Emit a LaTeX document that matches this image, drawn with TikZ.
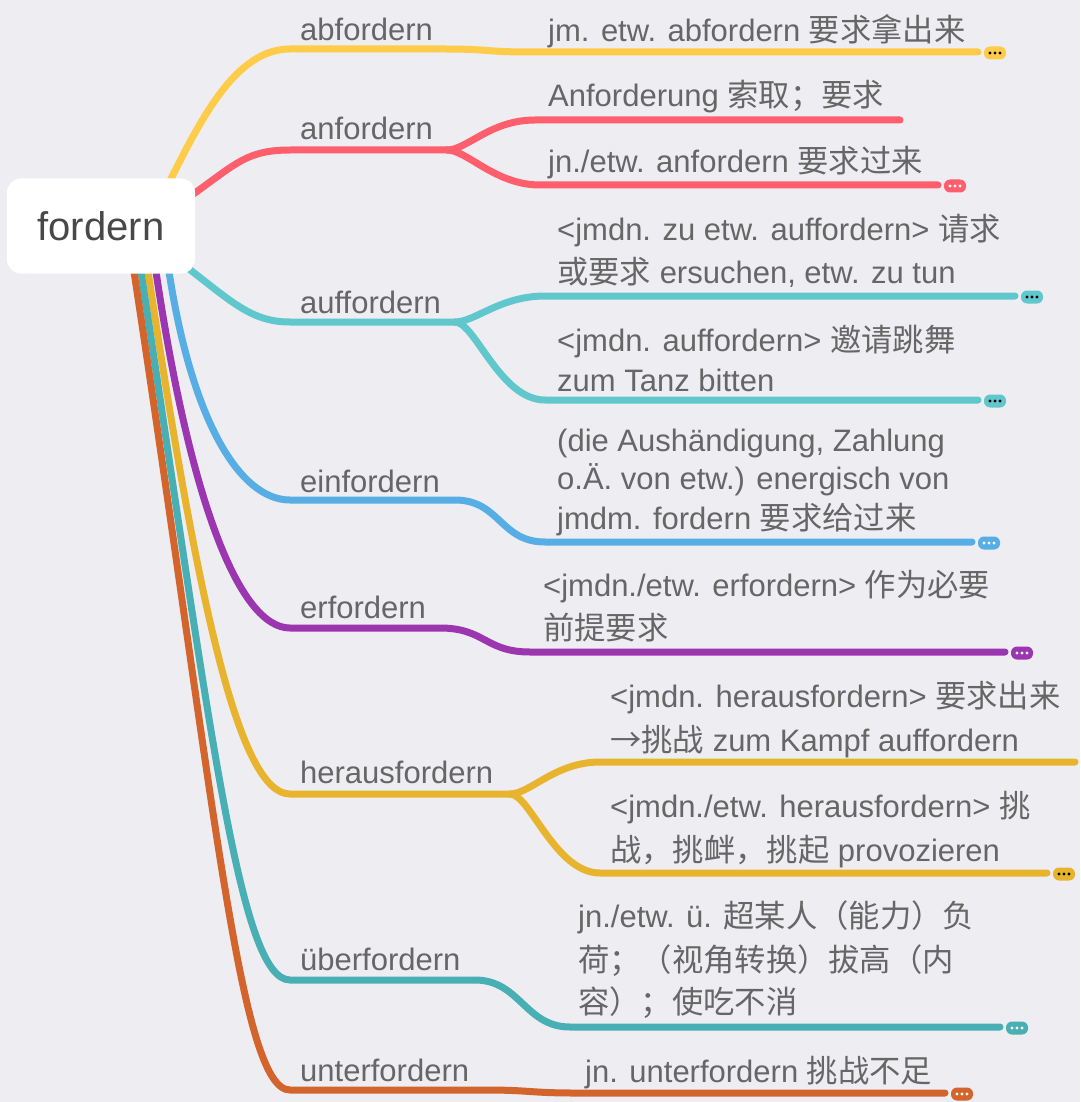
\documentclass[tikz,border=0pt]{standalone}
\usepackage{fontspec}
\setmainfont{Liberation Sans}
\newfontfamily\cjkf{Noto Sans CJK SC}[Scale=1.01]
\newcommand\zh[1]{{\cjkf #1}}
\definecolor{bgc}{RGB}{238,237,242}
\definecolor{txtc}{RGB}{102,102,102}
\definecolor{roottxt}{RGB}{72,72,72}
\definecolor{cA}{RGB}{254,204,72}
\definecolor{cB}{RGB}{255,94,108}
\definecolor{cC}{RGB}{96,200,204}
\definecolor{cD}{RGB}{86,174,228}
\definecolor{cE}{RGB}{155,53,176}
\definecolor{cF}{RGB}{232,180,46}
\definecolor{cG}{RGB}{72,176,180}
\definecolor{cH}{RGB}{210,100,44}
\begin{document}
\begin{tikzpicture}[x=1pt,y=-1pt,
  branch/.style={line width=7pt,line cap=round},
  lbl/.style={anchor=base west,inner sep=0pt,text=txtc,font=\fontsize{31}{37}\selectfont},
  badge/.style={rounded corners=6pt,minimum width=22pt,minimum height=13pt,inner sep=0pt},
  rootbox/.style={fill=white,rounded corners=14pt,minimum width=188pt,minimum height=95pt,inner sep=0pt,text=roottxt,font=\fontsize{40}{46}\selectfont}]
\fill[bgc] (0,0) rectangle (1080,1102);
\useasboundingbox (0,0) rectangle (1080,1102);

% coordinates
\coordinate (r1) at (163,195); \coordinate (m1) at (290,49);  \coordinate (j1) at (445,49);
\coordinate (k1) at (530,52);  \coordinate (e1) at (978,52);
\coordinate (r2) at (185,200); \coordinate (m2) at (290,150); \coordinate (j2) at (447,150);
\coordinate (k2a) at (535,120); \coordinate (e2a) at (900,120);
\coordinate (k2b) at (540,185); \coordinate (e2b) at (938,185);
\coordinate (r3) at (180,262); \coordinate (m3) at (290,322); \coordinate (j3) at (455,322);
\coordinate (k3a) at (545,296); \coordinate (e3a) at (1015,296);
\coordinate (k3b) at (545,400); \coordinate (e3b) at (978,400);
\coordinate (r4) at (168,265); \coordinate (m4) at (290,500); \coordinate (j4) at (455,500);
\coordinate (k4) at (545,542); \coordinate (e4) at (972,542);
\coordinate (r5) at (155,265); \coordinate (m5) at (290,628); \coordinate (j5) at (440,628);
\coordinate (k5) at (530,652); \coordinate (e5) at (1005,652);
\coordinate (r6) at (147,265); \coordinate (m6) at (290,794); \coordinate (j6) at (510,794);
\coordinate (k6a) at (600,762); \coordinate (e6a) at (1075,762);
\coordinate (k6b) at (600,873); \coordinate (e6b) at (1047,873);
\coordinate (r7) at (140,265); \coordinate (m7) at (290,980); \coordinate (j7) at (475,980);
\coordinate (k7) at (570,1027); \coordinate (e7) at (1000,1027);
\coordinate (r8) at (133,265); \coordinate (m8) at (290,1090); \coordinate (j8) at (485,1090);
\coordinate (k8) at (575,1093); \coordinate (e8) at (945,1093);

% branches
\draw[branch,cA] (r1) .. controls (200,120) and (235,49) .. (m1) -- (j1)
  .. controls +(45,0) and +(-45,0) .. (k1) -- (e1);
\draw[branch,cB] (r2) .. controls (235,165) and (245,150) .. (m2) -- (j2);
\draw[branch,cB] (j2) .. controls +(20,0) and +(-45,0) .. (k2a) -- (e2a);
\draw[branch,cB] (j2) .. controls +(20,0) and +(-45,0) .. (k2b) -- (e2b);
\draw[branch,cC] (r3) .. controls (230,300) and (250,322) .. (m3) -- (j3);
\draw[branch,cC] (j3) .. controls +(20,0) and +(-45,0) .. (k3a) -- (e3a);
\draw[branch,cC] (j3) .. controls +(20,0) and +(-45,0) .. (k3b) -- (e3b);
\draw[branch,cD] (r4) .. controls (191,421) and (240,500) .. (m4) -- (j4)
  .. controls +(45,0) and +(-45,0) .. (k4) -- (e4);
\draw[branch,cE] (r5) .. controls (190,504) and (240,628) .. (m5) -- (j5)
  .. controls +(45,0) and +(-45,0) .. (k5) -- (e5);
\draw[branch,cF] (r6) .. controls (199,612) and (240,794) .. (m6) -- (j6);
\draw[branch,cF] (j6) .. controls +(20,0) and +(-45,0) .. (k6a) -- (e6a);
\draw[branch,cF] (j6) .. controls +(20,0) and +(-45,0) .. (k6b) -- (e6b);
\draw[branch,cG] (r7) .. controls (211,733) and (240,980) .. (m7) -- (j7)
  .. controls +(45,0) and +(-45,0) .. (k7) -- (e7);
\draw[branch,cH] (r8) .. controls (215,804) and (240,1090) .. (m8) -- (j8)
  .. controls +(45,0) and +(-45,0) .. (k8) -- (e8);

% root
\node[rootbox] (root) at (101,226) {fordern};

% badges
\node[badge,fill=cA] (b1) at (995,53) {};
\node[badge,fill=cB] (b2) at (955,186) {};
\node[badge,fill=cC] (b3a) at (1032,297) {};
\node[badge,fill=cC] (b3b) at (995,401) {};
\node[badge,fill=cD] (b4) at (989,543) {};
\node[badge,fill=cE] (b5) at (1022,653) {};
\node[badge,fill=cF] (b6) at (1064,874) {};
\node[badge,fill=cG] (b7) at (1017,1028) {};
\node[badge,fill=cH] (b8) at (962,1094) {};
\foreach \b/\c in {b1/black,b2/white,b3a/black,b3b/black,b4/white,b5/white,b6/black,b7/white,b8/white}{
  \foreach \dx in {-5,0,5}{\fill[\c] ([xshift=\dx pt]\b.center) circle (1.6pt);}
}

% labels
\node[lbl] (l1) at (300,41) {abfordern};
\node[lbl] (l2) at (300,140) {anfordern};
\node[lbl] (l3) at (300,313) {auffordern};
\node[lbl] (l4) at (300,492) {einfordern};
\node[lbl] (l5) at (300,618) {erfordern};
\node[lbl] (l6) at (300,783) {herausfordern};
\node[lbl] (l7) at (300,970) {überfordern};
\node[lbl] (l8) at (300,1081) {unterfordern};

% child texts
\node[lbl] (t1) at (548,42) {jm. etw. abfordern \zh{要求拿出来}};
\node[lbl] (t2a) at (548,107) {Anforderung \zh{索取；要求}};
\node[lbl] (t2b) at (548,173) {jn./etw. anfordern \zh{要求过来}};
\node[lbl] (t3a1) at (557,240) {<jmdn. zu etw. auffordern> \zh{请求}};
\node[lbl] (t3a2) at (557,283) {\zh{或要求} ersuchen, etw. zu tun};
\node[lbl] (t3b1) at (557,351) {<jmdn. auffordern> \zh{邀请跳舞}};
\node[lbl] (t3b2) at (557,391) {zum Tanz bitten};
\node[lbl] (t41) at (557,451) {(die Aushändigung, Zahlung};
\node[lbl] (t42) at (557,489) {o.Ä. von etw.) energisch von};
\node[lbl] (t43) at (557,529) {jmdm. fordern \zh{要求给过来}};
\node[lbl] (t51) at (543,596) {<jmdn./etw. erfordern> \zh{作为必要}};
\node[lbl] (t52) at (543,639) {\zh{前提要求}};
\node[lbl] (t6a1) at (610,707) {<jmdn. herausfordern> \zh{要求出来}};
\node[lbl] (t6a2) at (610,751) {\zh{→挑战} zum Kampf auffordern};
\node[lbl] (t6b1) at (610,817) {<jmdn./etw. herausfordern> \zh{挑}};
\node[lbl] (t6b2) at (610,861) {\zh{战，挑衅，挑起} provozieren};
\node[lbl] (t71) at (578,927) {jn./etw. ü. \zh{超某人（能力）负}};
\node[lbl] (t72) at (578,971) {\zh{荷；（视角转换）拔高（内}};
\node[lbl] (t73) at (578,1013) {\zh{容）；使吃不消}};
\node[lbl] (t8) at (585,1082) {jn. unterfordern \zh{挑战不足}};
\end{tikzpicture}
\end{document}
